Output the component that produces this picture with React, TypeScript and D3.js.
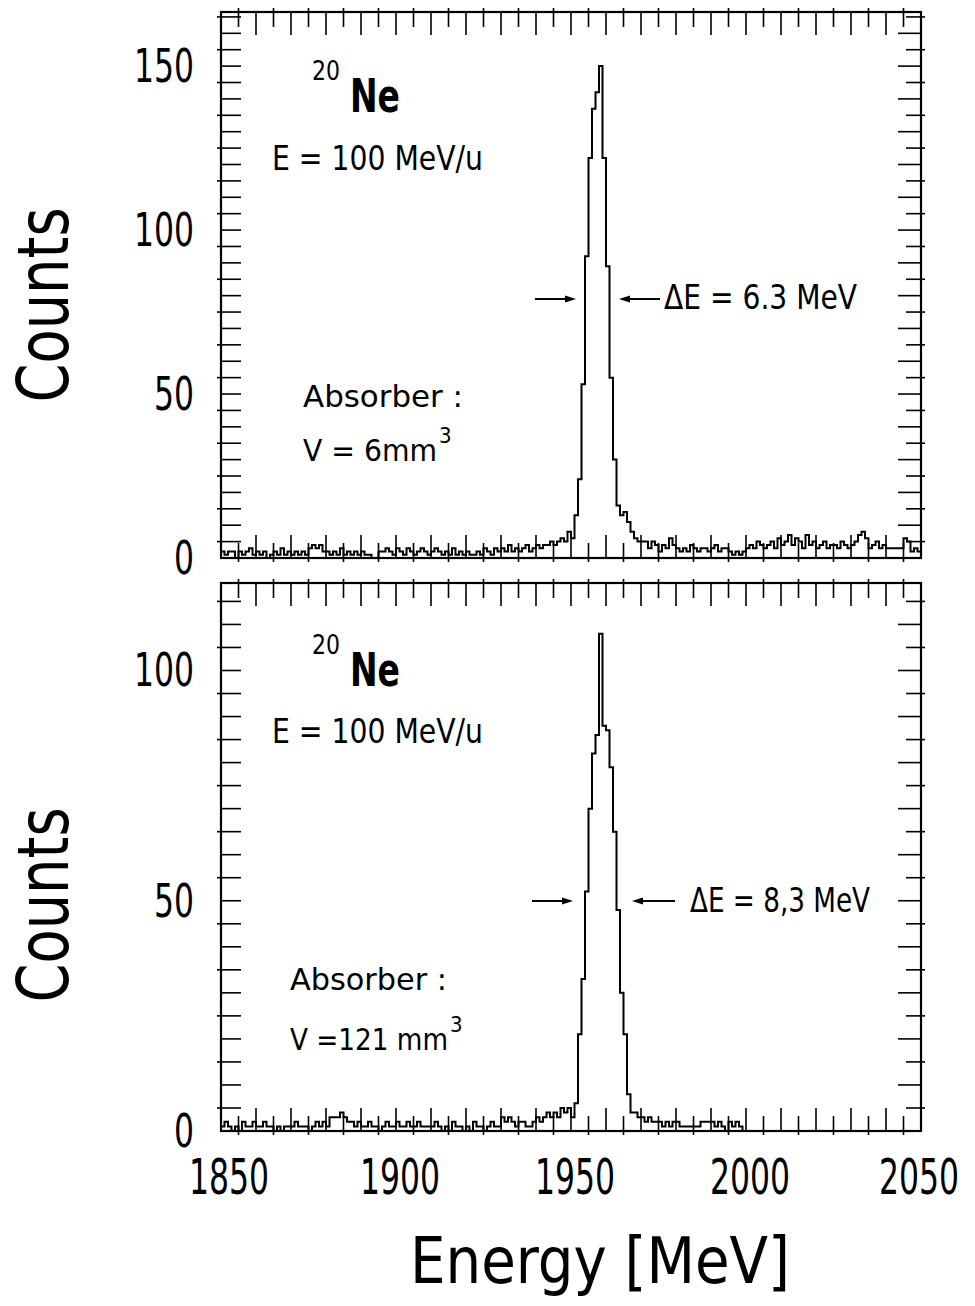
import React from "react";
import * as d3 from "d3";

// ---- data (1 MeV bins starting at 1850 MeV) ----
const binStart = 1850;
const binWidth = 1;

const topCounts = [
  2, 1, 2, 2, 0, 2, 1, 2, 3, 1,
  2, 1, 2, 0, 1, 2, 1, 3, 1, 2,
  1, 2, 1, 2, 1, 3, 4, 3, 4, 2,
  2, 1, 2, 1, 3, 1, 2, 1, 2, 1,
  2, 1, 1, 0, 0, 2, 2, 3, 2, 1,
  3, 2, 1, 3, 2, 1, 2, 3, 2, 1,
  2, 3, 2, 1, 2, 1, 3, 1, 2, 1,
  2, 1, 1, 2, 1, 3, 2, 1, 3, 2,
  3, 2, 4, 2, 3, 2, 3, 4, 2, 3,
  4, 3, 4, 4, 5, 4, 5, 6, 5, 8,
  6, 13, 24, 53, 92, 122, 137, 142, 150, 122,
  89, 55, 30, 16, 13, 14, 11, 8, 6, 5,
  5, 5, 3, 5, 4, 2, 4, 3, 6, 4,
  3, 2, 3, 2, 4, 3, 2, 3, 3, 2,
  3, 4, 2, 3, 3, 2, 1, 2, 1, 2,
  3, 4, 3, 5, 4, 3, 4, 5, 3, 6,
  4, 5, 7, 4, 6, 5, 3, 7, 4, 5,
  3, 4, 5, 3, 4, 4, 3, 5, 4, 3,
  4, 5, 7, 8, 6, 3, 4, 5, 3, 4,
  3, 3, 3, 3, 3, 6, 5, 2, 3, 2,
];

const bottomCounts = [
  1, 2, 1, 0, 1, 0, 2, 1, 1, 2,
  1, 1, 2, 1, 1, 0, 1, 0, 1, 1,
  1, 2, 1, 1, 1, 0, 1, 2, 1, 2,
  1, 3, 3, 3, 4, 3, 2, 2, 1, 2,
  1, 1, 2, 1, 1, 0, 1, 2, 1, 1,
  2, 1, 1, 2, 1, 1, 2, 1, 1, 1,
  1, 2, 1, 0, 1, 0, 2, 1, 1, 0,
  1, 0, 2, 1, 1, 0, 1, 2, 1, 1,
  3, 2, 3, 2, 1, 2, 2, 1, 1, 2,
  3, 2, 3, 4, 3, 4, 3, 5, 4, 5,
  3, 6, 21, 33, 52, 70, 82, 86, 108, 88,
  87, 79, 65, 48, 30, 21, 8, 4, 4, 3,
  3, 2, 3, 2, 2, 2, 1, 2, 1, 2,
  2, 1, 1, 1, 1, 1, 1, 2, 2, 2,
  2, 1, 2, 1, 0, 2, 1, 2, 1, 0,
  0, 0, 0, 0, 0, 0, 0, 0, 0, 0,
  0, 0, 0, 0, 0, 0, 0, 0, 0, 0,
  0, 0, 0, 0, 0, 0, 0, 0, 0, 0,
  0, 0, 0, 0, 0, 0, 0, 0, 0, 0,
  0, 0, 0, 0, 0, 0, 0, 0, 0, 0,
];

const xTickLabels = [1850, 1900, 1950, 2000, 2050];
const topYTickLabels = [0, 50, 100, 150];
const bottomYTickLabels = [0, 50, 100];

const xDomain: [number, number] = [1850, 2050];
const topYMax = 166.5;
const bottomYMax = 119;

// ---- layout ----
const W = 975;
const H = 1306;
const X0 = 221;
const X1 = 921;
const FONT = "'DejaVu Sans Condensed', 'DejaVu Sans', sans-serif";

const xScale = d3.scaleLinear().domain(xDomain).range([X0, X1]);

function Arrow({ from, to, y }: { from: number; to: number; y: number }) {
  const dir = to > from ? 1 : -1;
  const hl = 11;
  const hw = 3.5;
  return (
    <g>
      <line x1={from} x2={to - dir * hl} y1={y} y2={y} stroke="#000" strokeWidth={2} />
      <path
        d={`M${to},${y} L${to - dir * hl},${y - hw} L${to - dir * hl},${y + hw} Z`}
        fill="#000"
      />
    </g>
  );
}

type PanelProps = {
  counts: number[];
  yMax: number;
  top: number;
  bottom: number;
  yTicks: number[];
  showXLabels: boolean;
  children?: React.ReactNode;
};

function Panel({ counts, yMax, top, bottom, yTicks, showXLabels, children }: PanelProps) {
  const y = d3.scaleLinear().domain([0, yMax]).range([bottom, top]);
  const pts: [number, number][] = counts.map((c, i) => [binStart + i * binWidth, c]);
  pts.push([binStart + counts.length * binWidth, counts[counts.length - 1]]);
  const line = d3
    .line<[number, number]>()
    .x((d) => xScale(d[0]))
    .y((d) => y(d[1]))
    .curve(d3.curveStepAfter);

  const xt = d3.range(xDomain[0], xDomain[1] + 0.01, 5);
  const yt = d3.range(0, yMax, 5);

  return (
    <g>
      {xt.map((v) => {
        const long = v % 10 === 0;
        const px = xScale(v);
        const len = long ? 23 : 15;
        return (
          <g key={"x" + v} stroke="#000" strokeWidth={1.6}>
            <line x1={px} x2={px} y1={top} y2={top + len} />
            <line x1={px} x2={px} y1={bottom} y2={bottom - len} />
            {!long && <line x1={px} x2={px} y1={top - 4} y2={top} />}
            {!long && <line x1={px} x2={px} y1={bottom} y2={bottom + 4} />}
          </g>
        );
      })}
      {yt.map((v) => {
        const long = v % 10 === 0;
        const py = y(v);
        return (
          <g key={"y" + v} stroke="#000" strokeWidth={1.6}>
            <line x1={X0} x2={X0 + 20} y1={py} y2={py} />
            <line x1={X1} x2={X1 - (long ? 23 : 15)} y1={py} y2={py} />
            {!long && <line x1={X0 - 4} x2={X0} y1={py} y2={py} />}
            {!long && <line x1={X1} x2={X1 + 4} y1={py} y2={py} />}
          </g>
        );
      })}
      <path d={line(pts) || ""} fill="none" stroke="#000" strokeWidth={2} />
      <rect x={X0} y={top} width={X1 - X0} height={bottom - top} fill="none" stroke="#000" strokeWidth={2.2} />
      {yTicks.map((v) => (
        <text
          key={"yl" + v}
          x={194}
          y={y(v) + 16}
          textAnchor="end"
          fontFamily={FONT}
          fontSize={46}
          textLength={String(v).length * 20}
          lengthAdjust="spacingAndGlyphs"
        >
          {v}
        </text>
      ))}
      {showXLabels &&
        xTickLabels.map((v, i) => (
          <text
            key={"xl" + v}
            x={xScale(v) + (i === 0 ? 8 : i === xTickLabels.length - 1 ? -2 : 4)}
            y={1194}
            textAnchor="middle"
            fontFamily={FONT}
            fontSize={50}
            textLength={80}
            lengthAdjust="spacingAndGlyphs"
          >
            {v}
          </text>
        ))}
      {children}
    </g>
  );
}

function Annot({
  neBase,
  eBase,
  dText,
  dX,
  dLen,
  dBase,
  arrowY,
  la,
  ra,
  absX,
  absBase,
  absLen,
  vText,
  vLen,
  vBase,
  supX,
}: any) {
  return (
    <g fontFamily={FONT} fill="#000">
      <text x={312} y={neBase - 32} fontSize={26} textLength={28} lengthAdjust="spacingAndGlyphs">20</text>
      <text x={350} y={neBase} fontSize={46} fontWeight="bold" textLength={50} lengthAdjust="spacingAndGlyphs">Ne</text>
      <text x={272} y={eBase} fontSize={33} textLength={211} lengthAdjust="spacingAndGlyphs">E = 100 MeV/u</text>
      <text x={dX} y={dBase} fontSize={34} textLength={dLen} lengthAdjust="spacingAndGlyphs">{dText}</text>
      <Arrow from={la[0]} to={la[1]} y={arrowY} />
      <Arrow from={ra[0]} to={ra[1]} y={arrowY} />
      <text x={absX} y={absBase} fontSize={30} textLength={absLen} lengthAdjust="spacingAndGlyphs">Absorber :</text>
      <text x={absX} y={vBase} fontSize={30} textLength={vLen} lengthAdjust="spacingAndGlyphs">{vText}</text>
      <text x={supX} y={vBase - 18} fontSize={22}>3</text>
    </g>
  );
}

export default function App() {
  return (
    <svg
      width={W}
      height={H}
      viewBox={`0 0 ${W} ${H}`}
      style={{ position: "absolute", left: 0, top: 0, background: "#fff" }}
    >
      <rect x={0} y={0} width={W} height={H} fill="#fff" />
      <Panel counts={topCounts} yMax={topYMax} top={12} bottom={558} yTicks={topYTickLabels} showXLabels={false}>
        <Annot
          neBase={112}
          eBase={170}
          dText="ΔE = 6.3 MeV"
          dX={664}
          dLen={193}
          dBase={309}
          arrowY={299}
          la={[535, 576]}
          ra={[660, 619]}
          absX={303}
          absBase={407}
          absLen={160}
          vText="V = 6mm"
          vLen={134}
          vBase={461}
          supX={439}
        />
      </Panel>
      <Panel counts={bottomCounts} yMax={bottomYMax} top={583} bottom={1131} yTicks={bottomYTickLabels} showXLabels={true}>
        <Annot
          neBase={686}
          eBase={743}
          dText="ΔE = 8,3 MeV"
          dX={690}
          dLen={180}
          dBase={912}
          arrowY={901}
          la={[532, 573]}
          ra={[675, 632]}
          absX={290}
          absBase={990}
          absLen={157}
          vText="V =121 mm"
          vLen={158}
          vBase={1050}
          supX={450}
        />
      </Panel>
      <text
        transform="translate(68,305) rotate(-90)"
        textAnchor="middle"
        fontFamily={FONT}
        fontSize={72}
        textLength={195}
        lengthAdjust="spacingAndGlyphs"
      >
        Counts
      </text>
      <text
        transform="translate(68,905) rotate(-90)"
        textAnchor="middle"
        fontFamily={FONT}
        fontSize={72}
        textLength={195}
        lengthAdjust="spacingAndGlyphs"
      >
        Counts
      </text>
      <text
        x={600}
        y={1283}
        textAnchor="middle"
        fontFamily={FONT}
        fontSize={64}
        textLength={380}
        lengthAdjust="spacingAndGlyphs"
      >
        Energy [MeV]
      </text>
    </svg>
  );
}
